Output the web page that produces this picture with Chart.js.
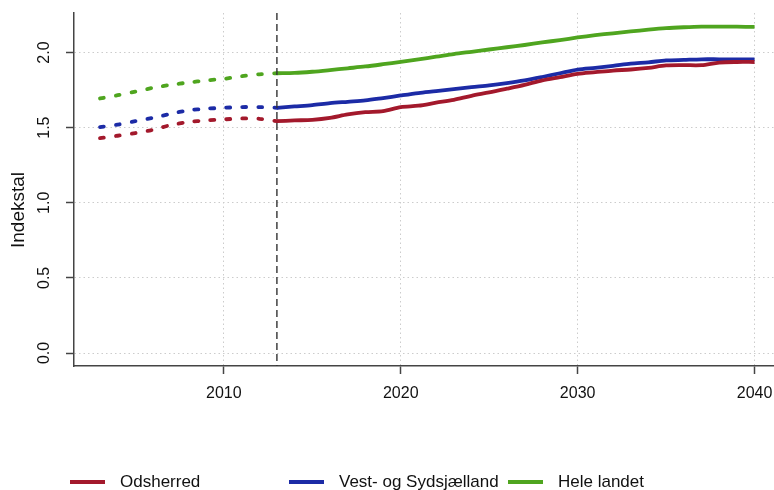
<!DOCTYPE html>
<html>
<head>
<meta charset="utf-8">
<script src="https://cdn.jsdelivr.net/npm/chart.js@4/dist/chart.umd.min.js"></script>
<style>
  body { margin: 0; background: #fff; font-family: "Liberation Sans", Arial, sans-serif; }
  #wrap { position: relative; width: 774px; height: 490px; overflow: hidden; }
  .leg { position: absolute; top: 471px; font-size: 17px; color: #111; line-height: 22px; white-space: nowrap; }
  .leg span { display: inline-block; width: 35px; height: 4px; vertical-align: middle; margin-right: 15px; position: relative; top: -1px; }
</style>
</head>
<body>
<div id="wrap">
  <canvas id="chart" width="774" height="490"></canvas>
  <div id="legend"></div>
</div>
<script>
// Historic years (dotted) and projection years (solid)
const histYears = [2003, 2004, 2005, 2006, 2007, 2008, 2009, 2010, 2011, 2012, 2013];
const projYears = [2013, 2014, 2015, 2016, 2017, 2018, 2019, 2020, 2021, 2022, 2023, 2024, 2025, 2026,
  2027, 2028, 2029, 2030, 2031, 2032, 2033, 2034, 2035, 2036, 2037, 2038, 2039, 2040];

const seriesNames = ["Odsherred", "Vest- og Sydsjælland", "Hele landet"];
const seriesColors = ["#a3192c", "#1c2ba6", "#4fa51f"];

const odsHist = [1.43, 1.446, 1.464, 1.486, 1.517, 1.537, 1.548, 1.555, 1.561, 1.559, 1.543];
const vestHist = [1.504, 1.52, 1.543, 1.566, 1.592, 1.615, 1.626, 1.632, 1.637, 1.637, 1.632];
const heleHist = [1.694, 1.716, 1.74, 1.765, 1.785, 1.80, 1.814, 1.825, 1.842, 1.855, 1.862];

const odsProj = [1.543, 1.548, 1.552, 1.565, 1.588, 1.603, 1.61, 1.637, 1.646, 1.666, 1.685, 1.712, 1.734, 1.759,
  1.785, 1.814, 1.836, 1.858, 1.869, 1.88, 1.887, 1.898, 1.914, 1.916, 1.916, 1.933, 1.937, 1.937];
const vestProj = [1.632, 1.641, 1.65, 1.663, 1.672, 1.681, 1.697, 1.714, 1.73, 1.743, 1.757, 1.77, 1.781, 1.796,
  1.814, 1.837, 1.862, 1.886, 1.898, 1.911, 1.926, 1.935, 1.947, 1.951, 1.955, 1.955, 1.955, 1.955];
const heleProj = [1.862, 1.864, 1.872, 1.883, 1.895, 1.907, 1.922, 1.938, 1.955, 1.972, 1.99, 2.005, 2.02, 2.035,
  2.05, 2.067, 2.083, 2.1, 2.115, 2.128, 2.14, 2.152, 2.162, 2.168, 2.172, 2.172, 2.172, 2.17];

const xTicks = [2010, 2020, 2030, 2040];
const yTicks = [0, 0.5, 1.0, 1.5, 2.0];
const splitYear = 2013;
const yTitle = "Indekstal";

const histData = [odsHist, vestHist, heleHist];
const projData = [odsProj, vestProj, heleProj];

const FONT = "'Liberation Sans', Arial, sans-serif";

function toPoints(years, vals)
{
  return years.map((y, i) => ({ x: y, y: vals[i] }));
}

const datasets = [];
for (let i = 0; i < seriesNames.length; i++)
{
  datasets.push({
    label: seriesNames[i] + " (historisk)",
    data: toPoints(histYears, histData[i]),
    borderColor: seriesColors[i],
    borderWidth: 3.8,
    borderDash: [4, 12],
    borderCapStyle: "round",
    pointRadius: 0,
    tension: 0.3,
    fill: false
  });
  datasets.push({
    label: seriesNames[i],
    data: toPoints(projYears, projData[i]),
    borderColor: seriesColors[i],
    borderWidth: 3.8,
    pointRadius: 0,
    tension: 0.3,
    fill: false
  });
}

// Vertical dashed line where projection starts + rotated y title
const extras = {
  id: "extras",
  afterDatasetsDraw(chart)
  {
    const x = chart.scales.x.getPixelForValue(splitYear);
    const area = chart.chartArea;
    const ctx = chart.ctx;
    ctx.save();
    ctx.strokeStyle = "#333";
    ctx.lineWidth = 1.4;
    ctx.setLineDash([7, 4]);
    ctx.beginPath();
    ctx.moveTo(x, area.top);
    ctx.lineTo(x, area.bottom);
    ctx.stroke();
    ctx.restore();

    ctx.save();
    ctx.translate(19, 210);
    ctx.rotate(-Math.PI / 2);
    ctx.font = "19px " + FONT;
    ctx.fillStyle = "#111";
    ctx.textAlign = "center";
    ctx.textBaseline = "middle";
    ctx.fillText(yTitle, 0, 0);
    ctx.restore();
  }
};

const gridOpts = {
  color: "#cccccc",
  lineWidth: 1,
  tickLength: 8,
  tickColor: "#444",
  tickWidth: 1.5,
  tickBorderDash: []
};

new Chart(document.getElementById("chart"), {
  type: "line",
  data: { datasets: datasets },
  options: {
    responsive: false,
    animation: false,
    layout: { padding: { top: 13, right: 0, bottom: 0, left: 0 } },
    plugins: { legend: { display: false }, tooltip: { enabled: false } },
    scales: {
      x: {
        type: "linear",
        min: 2001.53,
        max: 2041.1,
        afterFit: scale => { scale.height = 124; scale.paddingLeft = 0; scale.paddingRight = 0; },
        afterBuildTicks: scale => { scale.ticks = xTicks.map(v => ({ value: v })); },
        ticks: {
          font: { family: FONT, size: 16 },
          color: "#111",
          padding: 10,
          maxRotation: 0,
          callback: v => String(v)
        },
        grid: gridOpts,
        border: { color: "#444", width: 1.5, dash: [1.5, 3] }
      },
      y: {
        min: -0.0865,
        max: 2.263,
        afterFit: scale => { scale.width = 74; scale.paddingTop = 0; scale.paddingBottom = 0; },
        afterBuildTicks: scale => { scale.ticks = yTicks.map(v => ({ value: v })); },
        ticks: {
          font: { family: FONT, size: 16 },
          color: "#111",
          padding: 10,
          minRotation: 90,
          maxRotation: 90,
          crossAlign: "center",
          callback: v => v.toFixed(1)
        },
        grid: gridOpts,
        border: { color: "#444", width: 1.5, dash: [1.5, 3] }
      }
    }
  },
  plugins: [extras]
});

// Legend laid out in fixed columns like the original
const legendX = [70, 289, 508];
const legendEl = document.getElementById("legend");
seriesNames.forEach((name, i) =>
{
  const d = document.createElement("div");
  d.className = "leg";
  d.style.left = legendX[i] + "px";
  d.innerHTML = '<span style="background:' + seriesColors[i] + '"></span>' + name;
  legendEl.appendChild(d);
});
</script>
</body>
</html>
